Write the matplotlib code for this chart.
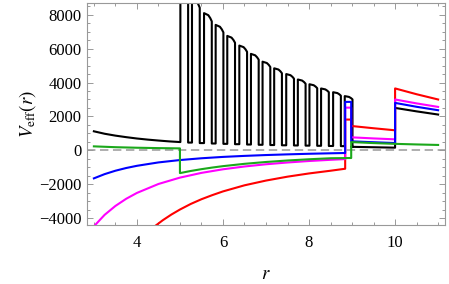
import numpy as np
import matplotlib
matplotlib.use("Agg")
import matplotlib.pyplot as plt
from matplotlib.ticker import MultipleLocator

plt.rcParams["font.family"] = ["Liberation Serif", "DejaVu Serif"]
plt.rcParams["mathtext.fontset"] = "stix"
plt.rcParams["axes.unicode_minus"] = True

# --- data ---
# black: smooth part before r=5
black_r1 = [3.0, 3.25, 3.5, 3.75, 4.0, 4.25, 4.5, 4.75, 5.0]
black_v1 = [1125, 980, 870, 780, 700, 635, 580, 530, 491]
# black: spikes between r=5 and r=9 (left edge, top height, floor after spike)
spike_r = [5.01, 5.28, 5.56, 5.83, 6.10, 6.38, 6.65, 6.92, 7.19, 7.47, 7.74, 8.01, 8.28, 8.56, 8.83]
spike_top = [10000, 8950, 8093, 7400, 6750, 6180, 5690, 5230, 4840, 4500, 4180, 3900, 3650, 3430, 3200]
spike_floor = [460, 430, 405, 385, 365, 345, 330, 315, 300, 290, 280, 270, 260, 250, 210]
spike_width = 0.18
# black: after the spikes
black_r2 = [8.98, 9.5, 10.0]
black_v2 = [210, 185, 160]
black_r3 = [10.0, 10.5, 11.0]
black_v3 = [2504, 2300, 2113]

# red
red_r1 = [4.4, 4.6, 4.8, 5.0, 5.25, 5.5, 5.75, 6.0, 6.5, 7.0, 7.5, 8.0, 8.5, 8.84]
red_v1 = [-4504, -4121, -3785, -3488, -3160, -2880, -2640, -2420, -2060, -1780, -1550, -1360, -1200, -1083]
red_spike = 1817
red_r2 = [8.98, 9.5, 10.0]
red_v2 = [1439, 1305, 1184]
red_r3 = [10.0, 10.5, 11.0]
red_v3 = [3653, 3310, 3001]

# magenta
mag_r1 = [3.0, 3.25, 3.5, 3.75, 4.0, 4.5, 5.0, 5.5, 6.0, 6.5, 7.0, 7.5, 8.0, 8.5, 8.84]
mag_v1 = [-4480, -3800, -3277, -2855, -2509, -1982, -1606, -1327, -1115, -950, -819, -714, -627, -556, -514]
mag_spike = 2520
mag_r2 = [8.98, 9.5, 10.0]
mag_v2 = [770, 705, 651]
mag_r3 = [10.0, 10.5, 11.0]
mag_v3 = [3001, 2770, 2563]

# blue
blue_r1 = [3.0, 3.25, 3.5, 3.75, 4.0, 4.5, 5.0, 5.5, 6.0, 6.5, 7.0, 7.5, 8.0, 8.5, 8.84]
blue_v1 = [-1650, -1400, -1200, -1040, -910, -710, -570, -465, -385, -325, -275, -235, -200, -172, -155]
blue_spike = 2859
blue_r2 = [8.98, 9.5, 10.0]
blue_v2 = [533, 480, 432]
blue_r3 = [10.0, 10.5, 11.0]
blue_v3 = [2800, 2570, 2368]

# green
green_r1 = [3.0, 3.5, 4.0, 4.5, 5.0]
green_v1 = [237, 188, 156, 134, 118]
green_r2 = [5.0, 5.25, 5.5, 5.75, 6.0, 6.5, 7.0, 7.5, 8.0, 8.5, 8.98]
green_v2 = [-1340, -1215, -1108, -1013, -930, -793, -684, -596, -524, -464, -450]
green_r3 = [8.98, 9.5, 10.0, 10.5, 11.0]
green_v3 = [490, 430, 385, 350, 320]

r_jump1 = 8.84
r_jump2 = 8.98


def with_spike(r1, v1, top, r2, v2, r3, v3):
    # join the pieces with vertical steps
    rs = list(r1) + [r_jump1, r_jump2] + list(r2) + list(r3)
    vs = list(v1) + [top, top] + list(v2) + list(v3)
    return rs, vs


def black_path():
    rs = list(black_r1)
    vs = list(black_v1)
    for i in range(len(spike_r)):
        r0 = spike_r[i]
        t = spike_top[i]
        drop = 0.06 * t
        rs += [r0, r0, r0 + 0.55 * spike_width, r0 + 0.8 * spike_width, r0 + spike_width, r0 + spike_width]
        vs += [vs[-1], t, t - 0.25 * drop, t - 0.6 * drop, t - drop, spike_floor[i]]
        if i + 1 < len(spike_r):
            rs.append(spike_r[i + 1])
            vs.append(spike_floor[i])
    rs += black_r2 + black_r3
    vs += black_v2 + black_v3
    return rs, vs


fig = plt.figure(figsize=(4.49, 2.84), dpi=100)
ax = fig.add_axes([87 / 449, 59 / 284, 358 / 449, 222 / 284])

lw = 1.5
ax.axhline(0, color="#999999", lw=1.1, dashes=(5.5, 3), zorder=1)

bx, bv = black_path()
ax.plot(bx, bv, color="black", lw=lw, zorder=2)

rx, rv = with_spike(red_r1, red_v1, red_spike, red_r2, red_v2, red_r3, red_v3)
ax.plot(rx, rv, color="#ff0000", lw=lw, zorder=3)

mx, mv = with_spike(mag_r1, mag_v1, mag_spike, mag_r2, mag_v2, mag_r3, mag_v3)
ax.plot(mx, mv, color="#ff00ff", lw=lw, zorder=4)

ux, uv = with_spike(blue_r1, blue_v1, blue_spike, blue_r2, blue_v2, blue_r3, blue_v3)
ax.plot(ux, uv, color="#0000ff", lw=lw, zorder=5)

gx = green_r1 + green_r2 + green_r3
gv = green_v1 + green_v2 + green_v3
ax.plot(gx, gv, color="#1ba81b", lw=lw, zorder=6)

ax.set_xlim(2.84, 11.16)
ax.set_ylim(-4400, 8690)

ax.xaxis.set_major_locator(MultipleLocator(2))
ax.xaxis.set_minor_locator(MultipleLocator(0.5))
ax.yaxis.set_major_locator(MultipleLocator(2000))
ax.yaxis.set_minor_locator(MultipleLocator(500))

frame_col = "#999999"
for s in ax.spines.values():
    s.set_color(frame_col)
    s.set_linewidth(0.8)
ax.tick_params(which="both", direction="in", top=True, right=True, colors=frame_col,
               labelcolor="black", width=0.7, labelsize=12)
ax.tick_params(which="major", length=4.5)
ax.tick_params(which="minor", length=2.5)
ax.tick_params(axis="x", which="major", pad=7)
ax.tick_params(axis="y", which="major", pad=4)

ax.set_xlabel(r"$r$", fontsize=13.5, labelpad=11)
ax.set_ylabel(r"$V_{\mathrm{eff}}(r)$", fontsize=13.5, labelpad=1)

fig.savefig("out.png", dpi=100)
